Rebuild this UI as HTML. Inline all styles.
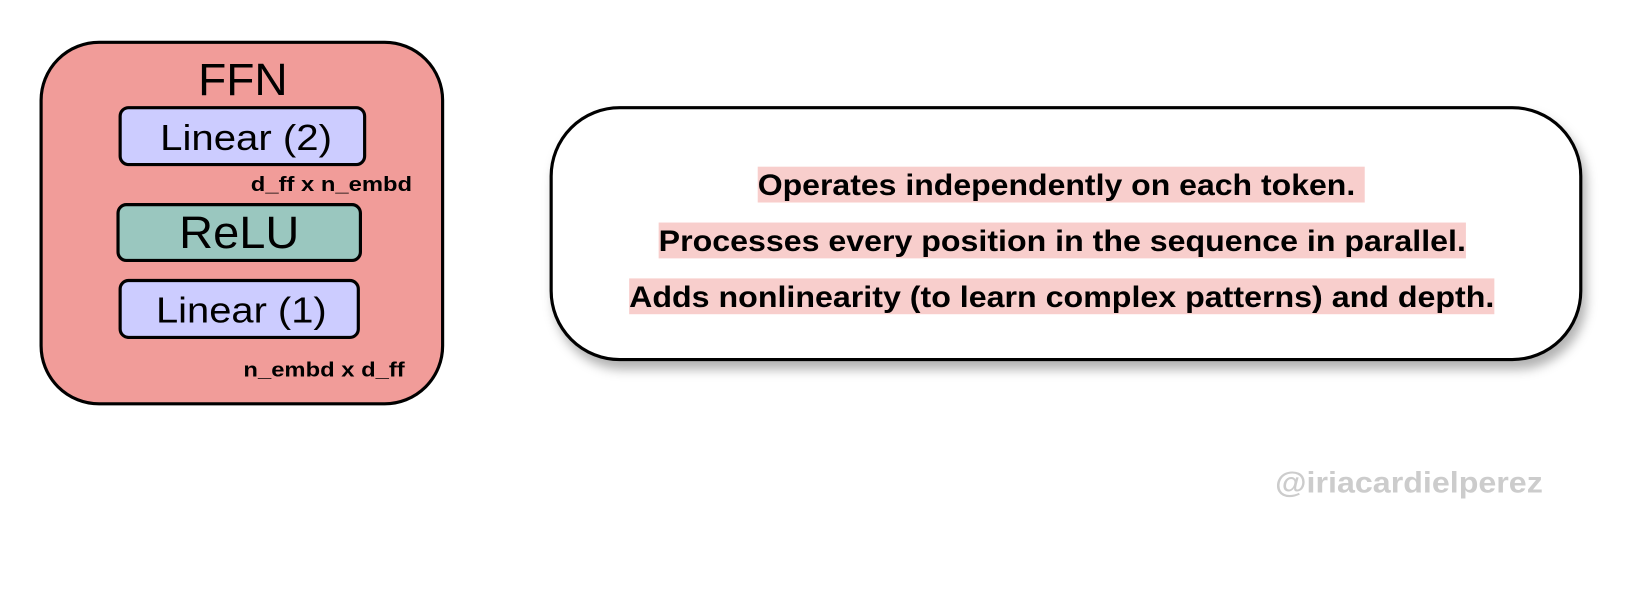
<!DOCTYPE html>
<html><head><style>
html,body{margin:0;padding:0;background:#fff;width:1644px;height:600px;overflow:hidden}
</style></head><body>
<svg width="1644" height="600" viewBox="0 0 1560 569" xmlns="http://www.w3.org/2000/svg" font-family="Liberation Sans, Arial, sans-serif">
<defs><filter id="sh" x="-10%" y="-10%" width="130%" height="140%"><feDropShadow dx="4" dy="8" stdDeviation="5" flood-color="#000" flood-opacity="0.3"/></filter></defs>
<rect x="39" y="40" width="381" height="343" rx="55" fill="#f19c99" stroke="#000" stroke-width="3"/>
<text x="188" y="90" font-size="43" textLength="85" lengthAdjust="spacingAndGlyphs">FFN</text>
<rect x="114" y="102" width="232" height="54" rx="8" fill="#ccccff" stroke="#000" stroke-width="3"/>
<text x="152" y="142" font-size="34" textLength="163" lengthAdjust="spacingAndGlyphs">Linear (2)</text>
<text x="238" y="181" font-size="19" font-weight="bold" textLength="153" lengthAdjust="spacingAndGlyphs">d_ff x n_embd</text>
<rect x="112" y="194" width="230" height="53" rx="8" fill="#9ac7bf" stroke="#000" stroke-width="3"/>
<text x="170" y="235" font-size="43" textLength="114" lengthAdjust="spacingAndGlyphs">ReLU</text>
<rect x="114" y="266" width="226" height="54" rx="8" fill="#ccccff" stroke="#000" stroke-width="3"/>
<text x="148" y="306" font-size="34" textLength="162" lengthAdjust="spacingAndGlyphs">Linear (1)</text>
<text x="231" y="357" font-size="19" font-weight="bold" textLength="153" lengthAdjust="spacingAndGlyphs">n_embd x d_ff</text>
<rect x="523" y="102" width="977" height="239" rx="65" fill="#fff" stroke="#000" stroke-width="3" filter="url(#sh)"/>
<rect x="719" y="158" width="576" height="34" fill="#f8cecc"/>
<rect x="625" y="211" width="766" height="34" fill="#f8cecc"/>
<rect x="597" y="264" width="821" height="34" fill="#f8cecc"/>
<g font-size="28" font-weight="bold" lengthAdjust="spacingAndGlyphs">
<text x="719" y="185" textLength="567" lengthAdjust="spacingAndGlyphs">Operates independently on each token.</text>
<text x="625" y="238" textLength="766" lengthAdjust="spacingAndGlyphs">Processes every position in the sequence in parallel.</text>
<text x="597" y="291" textLength="821" lengthAdjust="spacingAndGlyphs">Adds nonlinearity (to learn complex patterns) and depth.</text>
</g>
<text x="1210" y="467" font-size="28" font-weight="bold" fill="#cccccc" textLength="254" lengthAdjust="spacingAndGlyphs">@iriacardielperez</text>
</svg>
</body></html>
